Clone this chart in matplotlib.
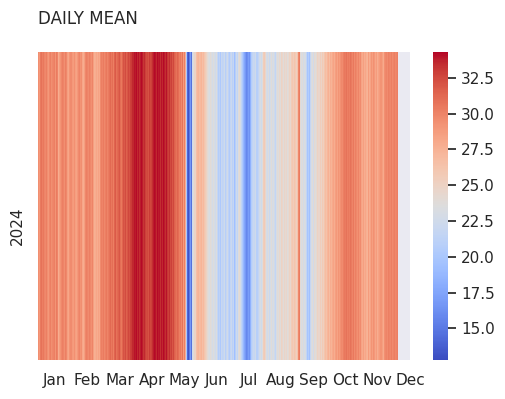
import numpy as np
import pandas as pd
import matplotlib
matplotlib.use("Agg")
import matplotlib.pyplot as plt
import seaborn as sns

year = "2024"
months = ["Jan", "Feb", "Mar", "Apr", "May", "Jun", "Jul", "Aug", "Sep", "Oct", "Nov", "Dec"]

jan = [29.5, 29.0, 30.5, 30.8, 30.2, 30.6, 30.0, 29.8, 30.2, 29.5, 29.0, 29.8, 30.2, 29.5, 29.8, 30.0,
       30.2, 29.2, 30.4, 30.0, 27.8, 28.6, 29.2, 29.8, 30.2, 30.0, 29.5, 30.2, 29.8, 28.6, 28.2]
feb = [29.2, 29.6, 29.0, 28.8, 29.4, 28.6, 28.4, 29.0, 29.6, 30.0, 29.2, 29.5, 28.2, 27.8, 28.6, 29.8,
       30.2, 30.0, 29.6, 30.2, 29.8, 29.4, 30.0, 28.6, 27.6, 27.8, 28.2, 27.8, 28.4]
mar = [28.0, 29.6, 30.2, 30.0, 30.4, 29.8, 30.2, 30.6, 30.0, 30.4, 30.8, 31.2, 30.6, 31.0, 30.2, 31.4,
       31.8, 30.8, 31.2, 31.6, 32.0, 31.0, 30.6, 31.4, 32.2, 31.8, 32.4, 31.6, 32.0, 32.6, 32.2]
apr = [32.8, 33.0, 33.6, 34.0, 33.8, 34.2, 33.6, 34.0, 33.4, 33.8, 34.2, 33.8, 33.2, 33.6, 32.8, 32.4,
       32.6, 32.2, 33.0, 32.6, 32.8, 33.4, 33.8, 34.2, 34.0, 33.6, 34.2, 33.8, 34.0, 33.4]
may = [34.0, 33.6, 34.2, 33.8, 33.4, 34.0, 33.2, 32.8, 33.4, 32.4, 32.8, 32.0, 32.6, 31.6, 31.2, 30.8,
       31.4, 31.0, 30.2, 30.6, 29.6, 30.8, 28.8, 30.2, 27.6, 20.0, 14.2, 13.2, 15.0, 16.8, 14.6]
jun = [22.8, 23.6, 24.8, 26.6, 27.2, 27.4, 26.8, 27.0, 27.4, 26.6, 27.0, 26.2, 25.6, 25.0, 24.2, 23.6,
       23.2, 24.0, 23.4, 22.8, 23.6, 23.0, 22.6, 23.4, 21.8, 20.6, 21.2, 20.2, 22.0, 21.4]
jul = [21.6, 22.4, 20.8, 21.8, 22.6, 21.2, 20.4, 21.6, 22.2, 21.0, 21.8, 19.4, 20.8, 22.4, 21.6, 23.6,
       24.2, 22.8, 21.4, 20.2, 18.8, 17.6, 16.8, 15.8, 16.2, 17.0, 16.4, 18.4, 20.6, 21.4, 22.0]
aug = [21.8, 22.4, 20.8, 21.6, 22.6, 23.2, 22.4, 23.6, 25.4, 25.8, 24.6, 23.0, 22.6, 23.4, 22.2, 23.0,
       23.8, 22.8, 23.4, 22.4, 21.6, 23.2, 24.0, 23.6, 24.4, 23.8, 25.0, 24.6, 23.8, 24.8, 24.2]
sep = [24.6, 23.8, 24.2, 25.0, 24.4, 25.6, 26.0, 25.4, 26.2, 25.8, 25.2, 26.4, 29.8, 30.4, 24.0, 23.2,
       23.8, 22.8, 23.4, 23.0, 21.6, 19.8, 20.6, 19.4, 21.8, 23.2, 23.8, 22.6, 24.2, 23.6]
oct_ = [24.2, 25.0, 24.6, 25.4, 24.8, 25.8, 25.2, 26.2, 26.8, 26.4, 27.2, 27.6, 26.8, 27.8, 27.4, 28.0,
        28.4, 27.8, 28.6, 29.0, 28.4, 29.2, 28.8, 29.4, 29.8, 29.6, 30.2, 30.6, 30.4, 30.8, 30.2]
nov = [30.6, 30.2, 30.8, 30.4, 30.0, 30.6, 29.6, 30.2, 29.8, 29.4, 30.0, 29.2, 29.6, 28.4, 28.0, 28.6,
       27.8, 28.2, 27.6, 27.4, 28.8, 27.8, 28.4, 29.2, 28.6, 29.4, 29.0, 28.2, 28.8, 27.8]
dec = [28.4, 28.8, 29.2, 28.6, 28.0, 29.4, 29.8, 30.0, 29.6, 30.2, 30.0, 29.8, 30.2, 29.6, 30.0, 30.2,
       29.8, 30.0, 30.2] + [np.nan] * 12

values = jan + feb + mar + apr + may + jun + jul + aug + sep + oct_ + nov + dec
days = pd.date_range("2024-01-01", "2024-12-31", freq="D")
df = pd.DataFrame([values], index=[year], columns=days)

sns.set_theme()
plt.rcParams['font.family'] = ['DejaVu Sans']

fig = plt.figure(figsize=(5.05, 3.99), dpi=100)
ax = fig.add_axes([0.0752, 0.0977, 0.7366, 0.772])
cax = fig.add_axes([0.857, 0.0977, 0.030, 0.772])

sns.heatmap(df, ax=ax, cbar_ax=cax, cmap="coolwarm", vmin=12.8, vmax=34.3,
            xticklabels=False, yticklabels=True)
ax.grid(False)

n = df.shape[1]
ax.set_xticks(np.linspace(n * 0.0457, n, 12))
ax.set_xticklabels(months, rotation=0)
ax.set_yticklabels([year], rotation=90, va="top")
ax.set_xlabel("")
ax.set_ylabel("")
ax.set_title("DAILY MEAN", loc="left", pad=20, fontsize=12)

fig.savefig("out.png", dpi=100)
